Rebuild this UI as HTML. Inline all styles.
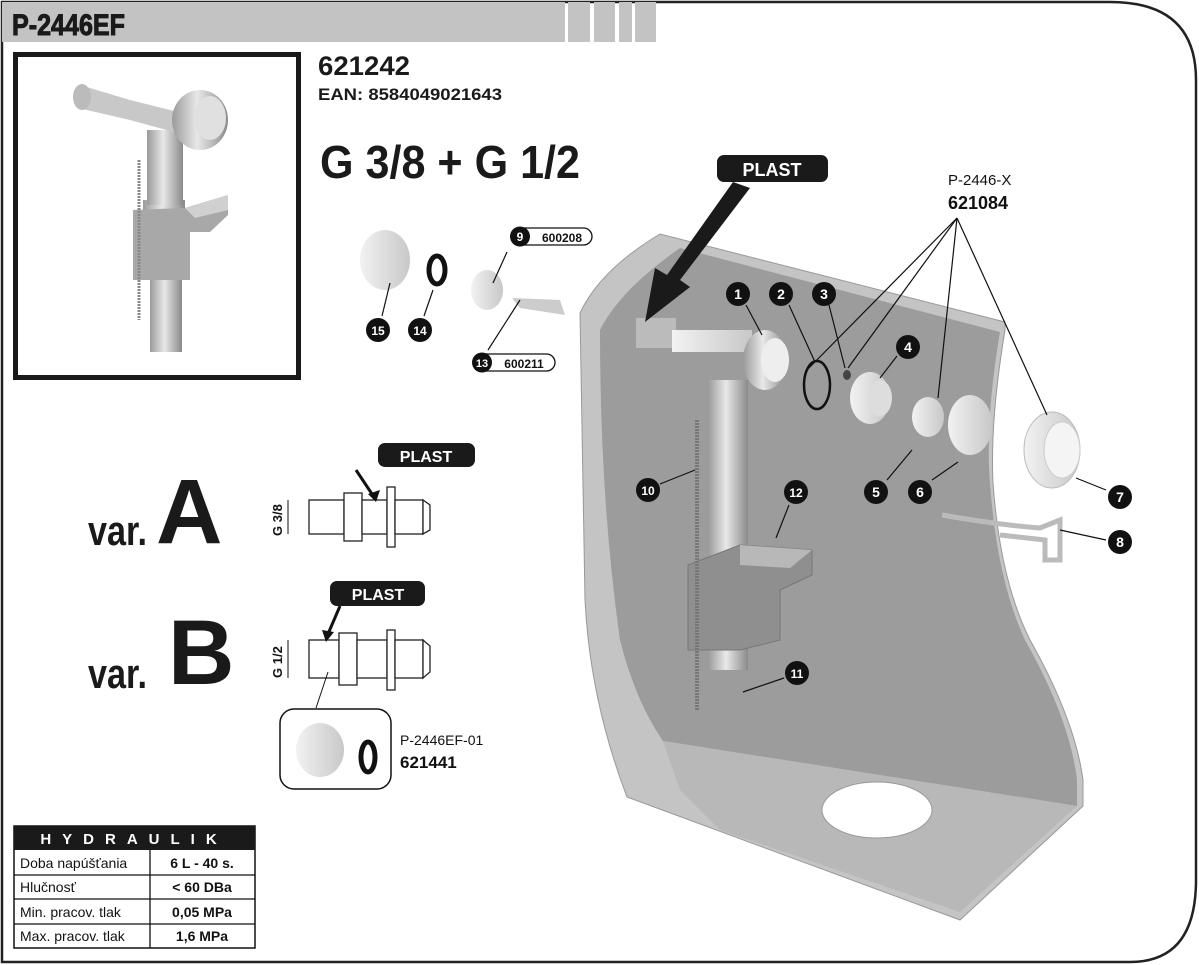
<!DOCTYPE html>
<html><head><meta charset="utf-8"><style>
html,body{margin:0;padding:0;background:#fff}
svg{display:block}
text{font-family:"Liberation Sans",sans-serif}
.b{font-weight:bold}
</style></head><body>
<svg width="1199" height="965" viewBox="0 0 1199 965" xmlns="http://www.w3.org/2000/svg">
<defs>
<linearGradient id="cyl" x1="0" x2="1" y1="0" y2="0"><stop offset="0" stop-color="#9a9a9a"/><stop offset="0.45" stop-color="#e8e8e8"/><stop offset="1" stop-color="#8a8a8a"/></linearGradient>
<linearGradient id="light" x1="0" x2="1"><stop offset="0" stop-color="#f2f2f2"/><stop offset="1" stop-color="#c8c8c8"/></linearGradient>
</defs>
<path d="M2,2 H1110 Q1196,2 1196,80 V880 Q1196,962 1130,962 H2 Z" fill="none" stroke="#222" stroke-width="2.5"/>
<rect x="2" y="2" width="563" height="40" fill="#c3c3c3"/>
<rect x="568" y="2" width="22" height="40" fill="#c3c3c3"/>
<rect x="594" y="2" width="21" height="40" fill="#c3c3c3"/>
<rect x="619" y="2" width="13" height="40" fill="#c3c3c3"/>
<rect x="635" y="2" width="21" height="40" fill="#c3c3c3"/>
<text x="12" y="35" font-size="30" class="b" fill="#1a1a1a" stroke="#1a1a1a" stroke-width="1" textLength="113" lengthAdjust="spacingAndGlyphs">P-2446EF</text>
<rect x="15.5" y="54.5" width="283" height="323" fill="#fff" stroke="#1a1a1a" stroke-width="5"/>
<g>
<rect x="150" y="250" width="32" height="102" fill="url(#cyl)"/>
<rect x="143" y="200" width="42" height="40" fill="url(#cyl)"/>
<polygon points="133,210 185,208 228,195 228,215 210,232 190,232 190,280 133,280" fill="#a8a8a8"/>
<polygon points="185,208 228,195 228,210 195,218" fill="#d0d0d0"/>
<rect x="147" y="130" width="36" height="75" fill="url(#cyl)"/>
<polygon points="80,85 130,100 190,115 185,135 130,120 78,108" fill="#c8c8c8"/>
<ellipse cx="82" cy="97" rx="9" ry="13" fill="#bbb"/>
<ellipse cx="200" cy="120" rx="28" ry="30" fill="url(#cyl)"/>
<ellipse cx="210" cy="118" rx="16" ry="22" fill="#e0e0e0"/>
<line x1="139" y1="160" x2="139" y2="320" stroke="#888" stroke-width="3" stroke-dasharray="2,1"/>
</g>
<text x="318" y="75" font-size="27" class="b" fill="#1a1a1a" textLength="92" lengthAdjust="spacingAndGlyphs">621242</text>
<text x="318" y="100" font-size="17" class="b" fill="#1a1a1a" textLength="184" lengthAdjust="spacingAndGlyphs">EAN: 8584049021643</text>
<text x="320" y="178" font-size="46" class="b" fill="#1a1a1a" textLength="260" lengthAdjust="spacingAndGlyphs">G 3/8 + G 1/2</text>
<path d="M580,313 Q600,270 660,234 L1005,322 L1005,330 Q990,420 993,483 Q1000,580 1030,640 Q1075,720 1083,780 L1083,806 L960,920 L627,797 Q590,700 585,600 Z" fill="#c4c4c4" stroke="#999"/>
<path d="M600,330 Q620,290 680,248 L1000,332 Q985,420 990,483 Q997,580 1025,640 Q1070,720 1077,780 L1077,806 L663,741 Q635,700 620,640 Q600,500 600,330 Z" fill="#9c9c9c"/>
<polygon points="663,741 1077,806 960,912 720,830 680,790" fill="#b8b8b8"/>
<ellipse cx="877" cy="810" rx="55" ry="28" fill="#fff" stroke="#999"/>
<rect x="708" y="380" width="40" height="290" fill="url(#cyl)"/>
<polygon points="688,565 740,545 812,550 812,575 780,590 780,640 740,650 688,650" fill="#8f8f8f" stroke="#777"/>
<polygon points="740,545 812,550 790,568 740,565" fill="#b8b8b8"/>
<rect x="636" y="318" width="40" height="30" fill="#bbb"/>
<rect x="672" y="330" width="80" height="22" fill="url(#light)"/>
<ellipse cx="765" cy="360" rx="22" ry="30" fill="url(#cyl)"/>
<ellipse cx="775" cy="360" rx="14" ry="22" fill="#eee"/>
<line x1="697" y1="420" x2="697" y2="710" stroke="#777" stroke-width="4" stroke-dasharray="2,1"/>
<ellipse cx="817" cy="385" rx="13" ry="24" fill="none" stroke="#111" stroke-width="2.5"/>
<ellipse cx="847" cy="375" rx="4" ry="5" fill="#444"/>
<ellipse cx="870" cy="398" rx="20" ry="26" fill="url(#light)"/>
<ellipse cx="880" cy="398" rx="12" ry="18" fill="#ddd"/>
<ellipse cx="928" cy="417" rx="16" ry="20" fill="url(#light)"/>
<ellipse cx="970" cy="425" rx="22" ry="30" fill="url(#light)"/>
<ellipse cx="1052" cy="450" rx="28" ry="38" fill="url(#light)" stroke="#bbb"/>
<ellipse cx="1062" cy="450" rx="18" ry="28" fill="#f4f4f4" stroke="#ccc"/>
<path d="M942,515 Q1000,525 1040,528 L1060,520 L1060,560 L1045,560 L1045,540 L1000,535" fill="none" stroke="#bbb" stroke-width="5"/>
<ellipse cx="385" cy="260" rx="25" ry="30" fill="url(#light)"/>
<ellipse cx="437" cy="270" rx="8" ry="14" fill="none" stroke="#111" stroke-width="5"/>
<ellipse cx="487" cy="290" rx="16" ry="20" fill="url(#light)"/>
<polygon points="512,298 560,300 565,315 520,308" fill="#ccc"/>
<polygon points="733,182 750,188 680,280 690,287 645,322 655,268 667,275" fill="#1a1a1a"/>
<rect x="717" y="155" width="111" height="27" rx="7" fill="#1a1a1a"/>
<text x="772" y="176" font-size="18" class="b" fill="#fff" text-anchor="middle">PLAST</text>
<rect x="378" y="443" width="97" height="24" rx="7" fill="#1a1a1a"/>
<text x="426" y="462" font-size="16" class="b" fill="#fff" text-anchor="middle">PLAST</text>
<rect x="330" y="581" width="95" height="25" rx="7" fill="#1a1a1a"/>
<text x="378" y="600" font-size="16" class="b" fill="#fff" text-anchor="middle">PLAST</text>
<g stroke="#111" stroke-width="1.2" fill="none">
<line x1="957" y1="218" x2="805" y2="372"/><line x1="957" y1="218" x2="848" y2="368"/>
<line x1="957" y1="218" x2="938" y2="398"/><line x1="957" y1="218" x2="1047" y2="415"/>
<line x1="746" y1="305" x2="762" y2="335"/><line x1="789" y1="305" x2="815" y2="362"/>
<line x1="829" y1="305" x2="845" y2="368"/><line x1="897" y1="356" x2="880" y2="378"/>
<line x1="887" y1="480" x2="912" y2="450"/><line x1="932" y1="480" x2="958" y2="462"/>
<line x1="1106" y1="490" x2="1076" y2="478"/><line x1="1106" y1="540" x2="1060" y2="530"/>
<line x1="660" y1="484" x2="695" y2="470"/><line x1="789" y1="505" x2="776" y2="538"/>
<line x1="784" y1="678" x2="743" y2="692"/>
<line x1="382" y1="316" x2="390" y2="283"/><line x1="424" y1="316" x2="433" y2="290"/>
<line x1="493" y1="283" x2="507" y2="252"/><line x1="488" y1="350" x2="520" y2="300"/>
</g>
<g font-size="14" class="b" fill="#fff" text-anchor="middle">
<g fill="#111"><circle cx="738" cy="294" r="12"/><circle cx="781" cy="294" r="12"/><circle cx="824" cy="294" r="12"/><circle cx="908" cy="347" r="12"/><circle cx="876" cy="492" r="12"/><circle cx="920" cy="492" r="12"/><circle cx="1120" cy="497" r="12"/><circle cx="1120" cy="542" r="12"/><circle cx="648" cy="490" r="12"/><circle cx="797" cy="673" r="12"/><circle cx="796" cy="492" r="12"/><circle cx="378" cy="330" r="12"/><circle cx="420" cy="330" r="12"/></g>
<text x="738" y="299" fill="#fff">1</text><text x="781" y="299" fill="#fff">2</text><text x="824" y="299" fill="#fff">3</text><text x="908" y="352" fill="#fff">4</text><text x="876" y="497" fill="#fff">5</text><text x="920" y="497" fill="#fff">6</text><text x="1120" y="502" fill="#fff">7</text><text x="1120" y="547" fill="#fff">8</text><text x="648" y="495" fill="#fff" font-size="12">10</text><text x="797" y="678" fill="#fff" font-size="12">11</text><text x="796" y="497" fill="#fff" font-size="12">12</text><text x="378" y="335" fill="#fff" font-size="12">15</text><text x="420" y="335" fill="#fff" font-size="12">14</text>
</g>
<rect x="515" y="228" width="77" height="17" rx="8.5" fill="#fff" stroke="#111" stroke-width="1.3"/>
<circle cx="520" cy="236.5" r="10" fill="#111"/><text x="520" y="241" font-size="12" class="b" fill="#fff" text-anchor="middle">9</text>
<text x="562" y="242" font-size="12" class="b" fill="#111" text-anchor="middle">600208</text>
<rect x="477" y="354" width="78" height="17" rx="8.5" fill="#fff" stroke="#111" stroke-width="1.3"/>
<circle cx="482" cy="362.5" r="10" fill="#111"/><text x="482" y="367" font-size="11" class="b" fill="#fff" text-anchor="middle">13</text>
<text x="524" y="368" font-size="12" class="b" fill="#111" text-anchor="middle">600211</text>
<text x="948" y="185" font-size="15" fill="#111">P-2446-X</text>
<text x="948" y="209" font-size="18" class="b" fill="#111">621084</text>
<text x="88" y="545" font-size="42" class="b" fill="#1a1a1a" textLength="59" lengthAdjust="spacingAndGlyphs">var.</text>
<text x="156" y="543" font-size="92" class="b" fill="#1a1a1a">A</text>
<text x="88" y="688" font-size="42" class="b" fill="#1a1a1a" textLength="59" lengthAdjust="spacingAndGlyphs">var.</text>
<text x="168" y="684" font-size="92" class="b" fill="#1a1a1a">B</text>
<g fill="#fff" stroke="#222" stroke-width="1.3">
<rect x="309" y="500" width="35" height="34"/><rect x="344" y="493" width="18" height="48"/><rect x="362" y="500" width="25" height="34"/><rect x="387" y="487" width="8" height="60"/><rect x="395" y="500" width="28" height="34"/><path d="M423,500 L430,505 L430,530 L423,534 Z"/>
<rect x="309" y="640" width="30" height="38"/><rect x="339" y="633" width="18" height="52"/><rect x="357" y="640" width="30" height="38"/><rect x="387" y="630" width="8" height="60"/><rect x="395" y="640" width="28" height="38"/><path d="M423,640 L430,646 L430,672 L423,678 Z"/>
</g>
<line x1="356" y1="470" x2="374" y2="497" stroke="#111" stroke-width="3"/><polygon points="368,494 380,490 376,502" fill="#111"/>
<line x1="340" y1="606" x2="328" y2="634" stroke="#111" stroke-width="3"/><polygon points="322,630 334,632 326,642" fill="#111"/>
<text transform="translate(282,536) rotate(-90)" font-size="13" class="b" fill="#111">G 3/8</text>
<text transform="translate(282,678) rotate(-90)" font-size="13" class="b" fill="#111">G 1/2</text>
<line x1="288" y1="500" x2="288" y2="534" stroke="#111"/><line x1="288" y1="640" x2="288" y2="678" stroke="#111"/>
<line x1="328" y1="672" x2="316" y2="708" stroke="#111"/>
<rect x="280" y="709" width="111" height="80" rx="14" fill="#fff" stroke="#111" stroke-width="1.5"/>
<ellipse cx="320" cy="750" rx="24" ry="27" fill="url(#light)"/>
<ellipse cx="368" cy="757" rx="7" ry="15" fill="none" stroke="#111" stroke-width="5"/>
<text x="400" y="745" font-size="14" fill="#111">P-2446EF-01</text>
<text x="400" y="768" font-size="17" class="b" fill="#111">621441</text>
<rect x="14" y="826" width="241" height="122" fill="#fff" stroke="#111" stroke-width="1.5"/>
<rect x="14" y="826" width="241" height="24" fill="#1a1a1a"/>
<text x="134" y="844" font-size="15" class="b" fill="#fff" text-anchor="middle" letter-spacing="11">HYDRAULIK</text>
<g stroke="#111" stroke-width="1.3"><line x1="14" y1="875" x2="255" y2="875"/><line x1="14" y1="899" x2="255" y2="899"/><line x1="14" y1="924" x2="255" y2="924"/><line x1="150" y1="850" x2="150" y2="948"/></g>
<g font-size="14" fill="#111"><text x="20" y="868">Doba napúšťania</text><text x="20" y="892">Hlučnosť</text><text x="20" y="917">Min. pracov. tlak</text><text x="20" y="941">Max. pracov. tlak</text></g>
<g font-size="14" class="b" fill="#111" text-anchor="middle"><text x="202" y="868">6 L - 40 s.</text><text x="202" y="892">&lt; 60 DBa</text><text x="202" y="917">0,05 MPa</text><text x="202" y="941">1,6 MPa</text></g>
</svg>
</body></html>
